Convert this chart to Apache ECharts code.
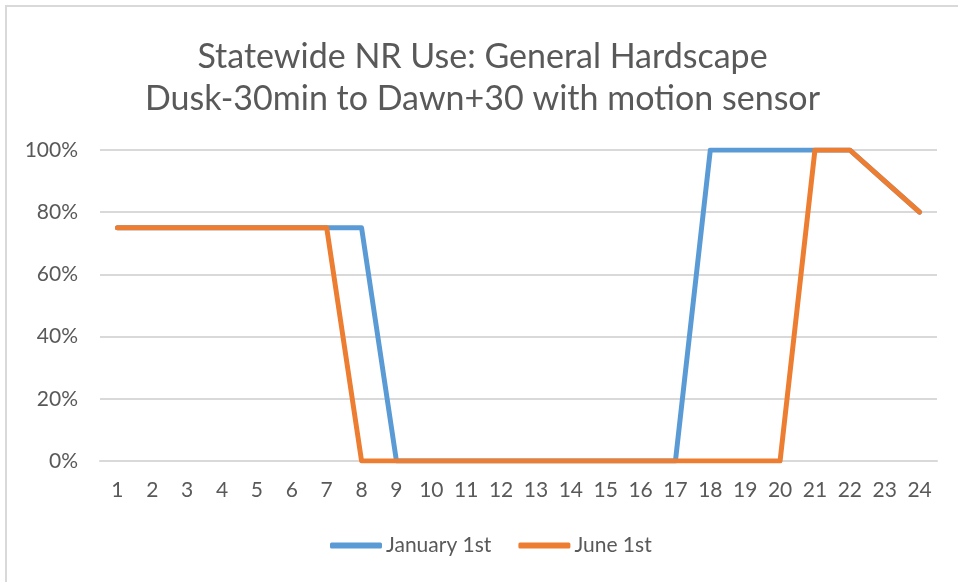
<!DOCTYPE html>
<html>
<head>
<meta charset="utf-8">
<script src="https://cdn.jsdelivr.net/npm/echarts@6/dist/echarts.min.js"></script>
<style>
  html, body { margin: 0; padding: 0; background: #fff; overflow: hidden; }
  #chart {
    position: absolute; left: 5px; top: 5px;
    width: 951px; height: 575px;
    border-top: 2px solid #d9d9d9; border-left: 2px solid #d9d9d9;
  }
</style>
</head>
<body>
<div id="chart"></div>
<script>
// hours of the day
const hours = ["1","2","3","4","5","6","7","8","9","10","11","12",
  "13","14","15","16","17","18","19","20","21","22","23","24"];

// share of nighttime use, percent
const january = [75,75,75,75,75,75,75,75,0,0,0,0,
  0,0,0,0,0,100,100,100,100,100,90,80];
const june = [75,75,75,75,75,75,75,0,0,0,0,0,
  0,0,0,0,0,0,0,0,100,100,90,80];

const yTicks = [0, 20, 40, 60, 80, 100];

const textColor = "#595959";
const font = "Lato";

const chart = echarts.init(document.getElementById("chart"), null, { renderer: "canvas" });

chart.setOption({
  animation: false,
  backgroundColor: "#fff",
  textStyle: { fontFamily: font },
  title: {
    text: "Statewide NR Use: General Hardscape\nDusk-30min to Dawn+30 with motion sensor",
    left: "center",
    top: 24,
    textStyle: { fontFamily: font, fontSize: 34, fontWeight: "normal", color: textColor, lineHeight: 42 }
  },
  grid: { left: 93, right: 21, top: 143, bottom: 121 },
  legend: {
    bottom: 21,
    left: 318,
    icon: "roundRect",
    itemWidth: 52,
    itemHeight: 6,
    itemGap: 27,
    textStyle: { fontFamily: font, fontSize: 21, color: textColor, padding: [0, 0, 0, -1] },
    data: ["January 1st", "June 1st"]
  },
  xAxis: {
    type: "category",
    data: hours,
    boundaryGap: true,
    axisLine: { lineStyle: { color: "#d9d9d9", width: 2 } },
    axisTick: { show: false },
    axisLabel: { fontFamily: font, fontSize: 21, color: textColor, margin: 19, interval: 0 }
  },
  yAxis: {
    type: "value",
    min: yTicks[0],
    max: yTicks[yTicks.length - 1],
    interval: 20,
    axisLine: { show: false },
    axisTick: { show: false },
    splitLine: { lineStyle: { color: "#d9d9d9", width: 2 } },
    axisLabel: { fontFamily: font, fontSize: 21, color: textColor, margin: 22, formatter: "{value}%" }
  },
  series: [
    {
      name: "January 1st",
      type: "line",
      data: january,
      showSymbol: false,
      symbol: "none",
      color: "#5B9BD5",
      lineStyle: { width: 5, color: "#5B9BD5", cap: "round", join: "round" }
    },
    {
      name: "June 1st",
      type: "line",
      data: june,
      showSymbol: false,
      symbol: "none",
      color: "#ED7D31",
      lineStyle: { width: 5, color: "#ED7D31", cap: "round", join: "round" }
    }
  ]
});
</script>
</body>
</html>
